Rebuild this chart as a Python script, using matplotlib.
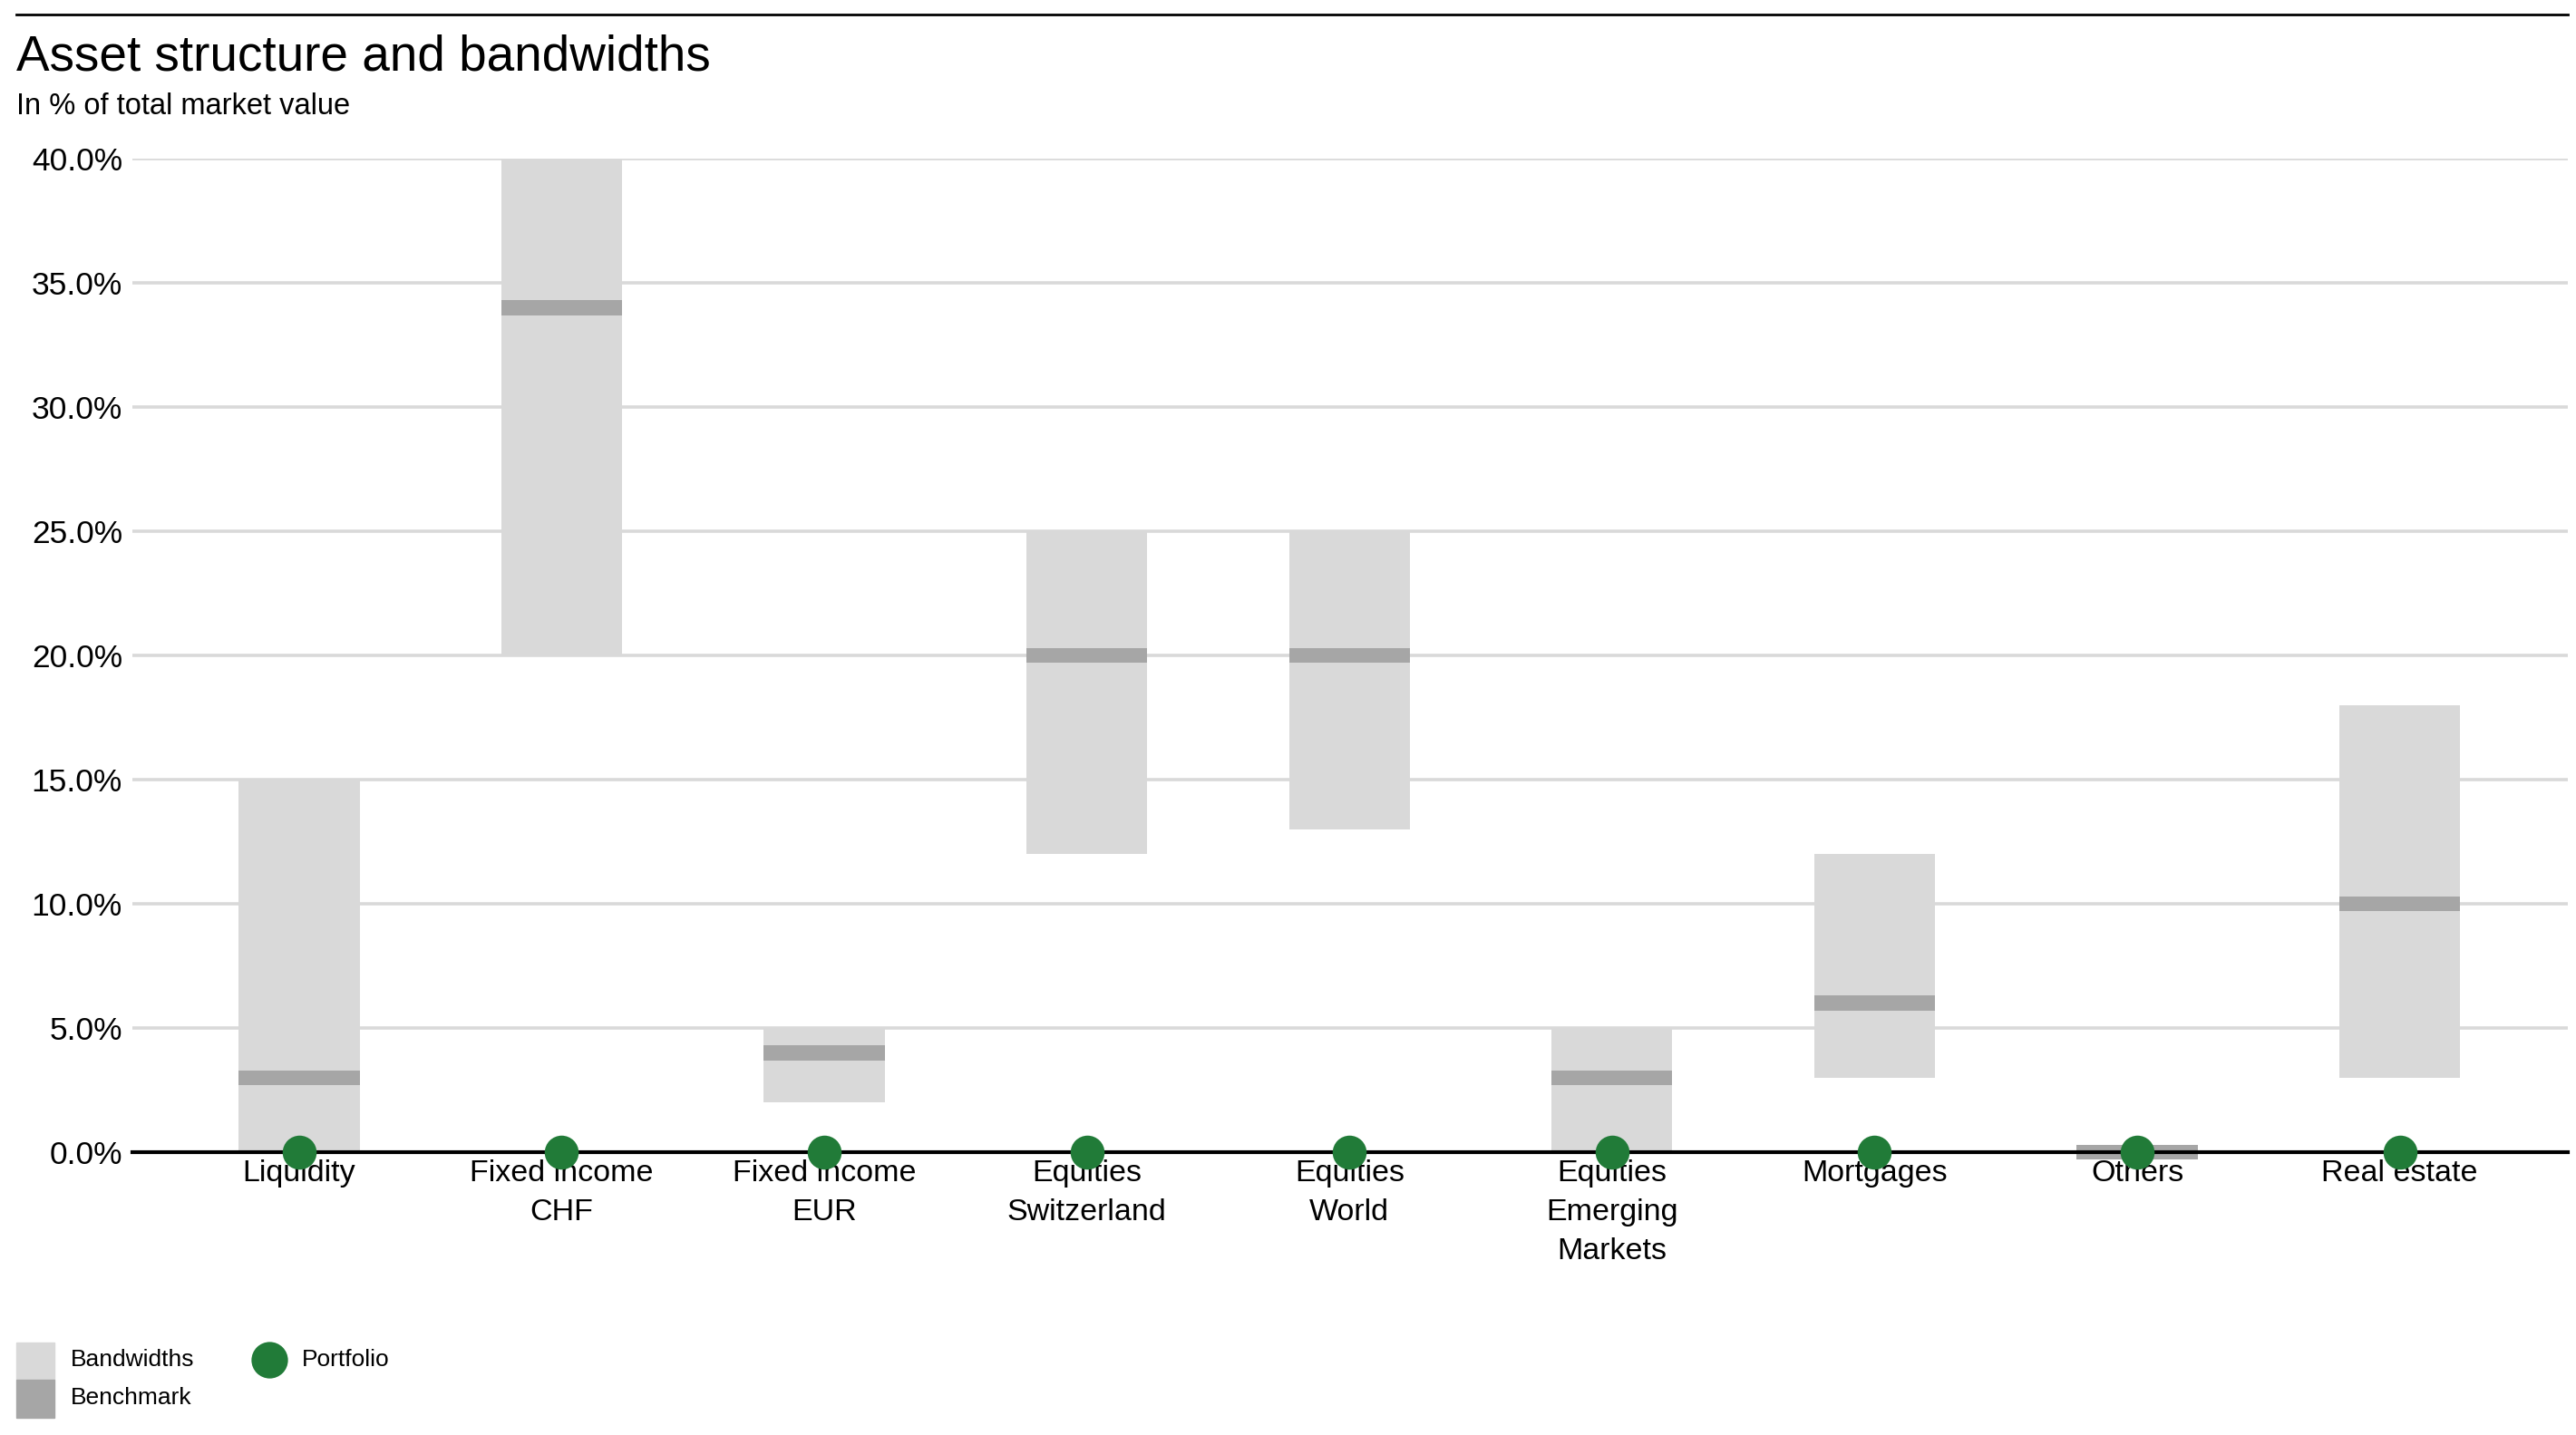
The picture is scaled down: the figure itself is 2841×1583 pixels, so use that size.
"""Asset structure and bandwidths: bandwidth ranges, benchmark and portfolio weights."""

import matplotlib

matplotlib.use("Agg")
import matplotlib.pyplot as plt  # noqa: E402
from matplotlib.lines import Line2D  # noqa: E402
from matplotlib.patches import Rectangle  # noqa: E402

plt.rcParams["font.family"] = ["Liberation Sans", "DejaVu Sans"]

categories = [
    "Liquidity",
    "Fixed income\nCHF",
    "Fixed income\nEUR",
    "Equities\nSwitzerland",
    "Equities\nWorld",
    "Equities\nEmerging\nMarkets",
    "Mortgages",
    "Others",
    "Real estate",
]
band_low = [0, 20, 2, 12, 13, 0, 3, 0, 3]
band_high = [15, 40, 5, 25, 25, 5, 12, 0, 18]
benchmark = [3, 34, 4, 20, 20, 3, 6, 0, 10]
portfolio = [0, 0, 0, 0, 0, 0, 0, 0, 0]
y_ticks = [0, 5, 10, 15, 20, 25, 30, 35, 40]

BAND_COLOR = "#d9d9d9"
BENCH_COLOR = "#a6a6a6"
GREEN = "#217b38"

W, H = 2841, 1583
fig = plt.figure(figsize=(W / 100, H / 100), dpi=100)
ax = fig.add_axes([146 / W, 312 / H, (2832 - 146) / W, (1271 - 175) / H])

x = list(range(len(categories)))
bar_w = 0.46

for y in y_ticks[1:]:
    ax.axhline(y, color="#d9d9d9", lw=2.6, zorder=0)

ax.bar(x, [h - l for l, h in zip(band_low, band_high)], bar_w, bottom=band_low,
       color=BAND_COLOR, zorder=1, clip_on=False)
bench_h = 0.6
ax.bar(x, [bench_h] * len(x), bar_w, bottom=[b - bench_h / 2 for b in benchmark],
       color=BENCH_COLOR, zorder=2, clip_on=False)
ax.axhline(0, color="black", lw=3, zorder=3, clip_on=False)
ax.plot(x, portfolio, "o", color=GREEN, ms=27, mec="none", zorder=4, clip_on=False)

ax.set_xlim(-0.635, len(x) - 1 + 0.64)
ax.set_ylim(0, 40)
ax.set_yticks(y_ticks)
ax.set_yticklabels([f"{v:.1f}%" for v in y_ticks], fontsize=25.5)
ax.set_xticks(x)
ax.set_xticklabels(categories, fontsize=24.5, linespacing=1.5)
ax.tick_params(axis="both", length=0)
ax.tick_params(axis="y", pad=8)
ax.tick_params(axis="x", pad=6)
for s in ax.spines.values():
    s.set_visible(False)

# header
fig.add_artist(Line2D([18 / W, 2832 / W], [1 - 16 / H] * 2, color="black", lw=2))
fig.text(18 / W, 1 - 64 / H, "Asset structure and bandwidths", fontsize=39.5, va="center")
fig.text(18 / W, 1 - 118 / H, "In % of total market value", fontsize=23.5, va="center")

# legend
fig.add_artist(Rectangle((18 / W, (H - 1522) / H), 42 / W, 41 / H, color=BAND_COLOR,
                         transform=fig.transFigure))
fig.add_artist(Rectangle((18 / W, (H - 1564) / H), 42 / W, 42 / H, color=BENCH_COLOR,
                         transform=fig.transFigure))
fig.text(78 / W, (H - 1500) / H, "Bandwidths", fontsize=19, va="center")
fig.text(78 / W, (H - 1542) / H, "Benchmark", fontsize=19, va="center")
fig.add_artist(Line2D([297 / W], [(H - 1500) / H], marker="o", ms=29, color=GREEN, mec="none"))
fig.text(333 / W, (H - 1500) / H, "Portfolio", fontsize=19, va="center")

fig.savefig("out.png", dpi=100)
